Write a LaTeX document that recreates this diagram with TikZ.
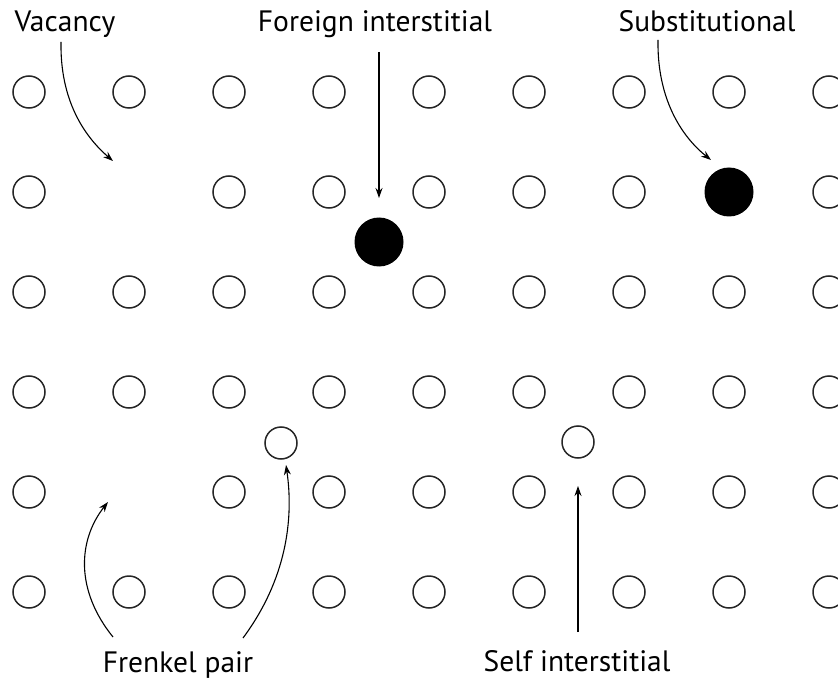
\documentclass[tikz,border=0pt]{standalone}
\usepackage{fontspec}
\setmainfont{PT Sans}
\usetikzlibrary{arrows.meta}
\begin{document}
\begin{tikzpicture}[x=1pt,y=-1pt,
  atom/.style={circle,draw=black!85,line width=1.5pt,minimum size=32pt,inner sep=0pt},
  impurity/.style={circle,fill=black,minimum size=49pt,inner sep=0pt},
  lbl/.style={font=\fontsize{29.5}{34}\selectfont,anchor=base,inner sep=0pt},
  pointer/.style={line width=1.1pt,-{Stealth[length=10pt,width=7pt]}}]
\useasboundingbox (0,0) rectangle (838,679);
% lattice
\foreach \c in {0,...,8}{
  \foreach \r in {0,...,5}{
    \pgfmathtruncatemacro{\skip}{(\c==1 && \r==1) || (\c==1 && \r==4) || (\c==7 && \r==1) ? 1 : 0}
    \ifnum\skip=0
      \node[atom] (a-\c-\r) at ({29+100*\c},{92+100*\r}) {};
    \fi
  }
}
% defects
\node[impurity] (foreign) at (379,242) {};
\node[impurity] (subst) at (729,192) {};
\node[atom] (selfA) at (281,443) {};
\node[atom] (selfB) at (578,442) {};
% labels
\node[lbl] (vac) at (65,32) {Vacancy};
\node[lbl] (fi) at (375,32) {Foreign interstitial};
\node[lbl] (sub) at (707,32) {Substitutional};
\node[lbl] (fp) at (178,672) {Frenkel pair};
\node[lbl] (si) at (577,671) {Self interstitial};
% pointer coordinates
\coordinate (vacS) at (61,42);
\coordinate (vacE) at (113,161);
\coordinate (fiS) at (379,52);
\coordinate (fiE) at (379,198);
\coordinate (subS) at (658,40);
\coordinate (subE) at (711,160);
\coordinate (fpLS) at (113,637);
\coordinate (fpLE) at (108,502);
\coordinate (fpRS) at (243,638);
\coordinate (fpRE) at (286,465);
\coordinate (siS) at (578,632);
\coordinate (siE) at (578,486);
% pointers
\draw[pointer] (vacS) .. controls (60,100) and (84,136) .. (vacE);
\draw[pointer] (fiS) -- (fiE);
\draw[pointer] (subS) .. controls (657,98) and (681,136) .. (subE);
\draw[pointer] (fpLS) .. controls (75,590) and (78,540) .. (fpLE);
\draw[pointer] (fpRS) .. controls (286,580) and (294,520) .. (fpRE);
\draw[pointer] (siS) -- (siE);
\end{tikzpicture}
\end{document}
